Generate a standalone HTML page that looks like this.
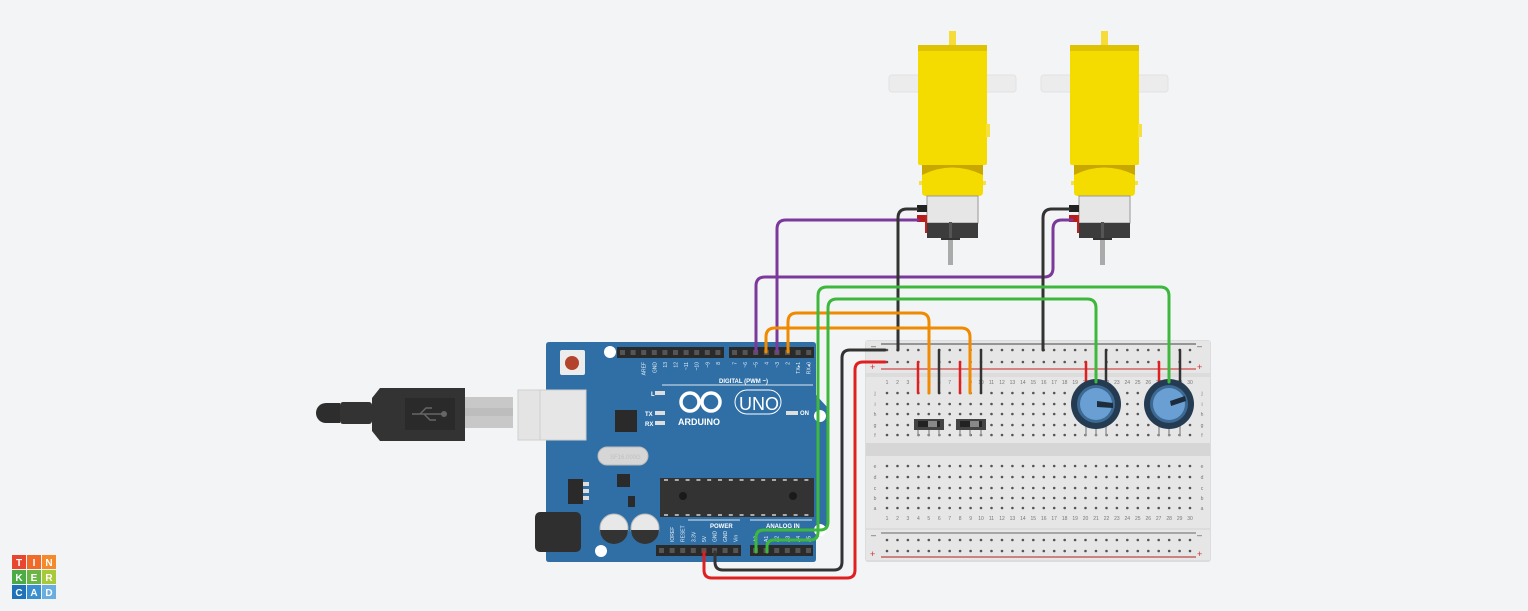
<!DOCTYPE html>
<html><head><meta charset="utf-8"><style>
html,body{margin:0;padding:0;background:#f3f4f6;}
svg{display:block;font-family:"Liberation Sans",sans-serif;}
</style></head><body>
<svg id="s" width="1528" height="611" viewBox="0 0 1528 611" xmlns="http://www.w3.org/2000/svg">
<rect width="1528" height="611" fill="#f3f4f6"/>

<!-- Motors -->
<g id="m1">
  <rect x="889" y="75" width="127" height="17" rx="3" fill="#ececec" stroke="#e2e2e2"/>
  <rect x="949" y="31" width="7" height="15" fill="#f5dc3a"/>
  <rect x="918" y="45" width="69" height="120" rx="2" fill="#f4dc00"/>
  <rect x="918" y="45" width="69" height="6" fill="#e0c300"/>
  <rect x="986" y="124" width="4" height="13" fill="#f5e040"/>
  <rect x="922" y="165" width="61" height="10" fill="#c8a800"/>
  <path d="M922 175 Q952 160 983 175 L983 192 Q983 196 979 196 L926 196 Q922 196 922 192 Z" fill="#f4dc00"/>
  <rect x="919" y="181" width="3" height="4" fill="#f5e040"/><rect x="983" y="181" width="3" height="4" fill="#f5e040"/>
  <rect x="927" y="196" width="51" height="27" fill="#e6e6e6" stroke="#999" stroke-width="1"/>
  <rect x="927" y="223" width="51" height="15" fill="#3c3c3c"/>
  <rect x="948" y="238" width="5" height="27" fill="#aaa"/>
  <rect x="949" y="222" width="3" height="18" fill="#555"/>
  <rect x="941" y="238" width="19" height="2" fill="#333"/>
  <rect x="917" y="205" width="10" height="7" fill="#222"/>
  <rect x="917" y="215" width="10" height="7" fill="#b81c1c"/>
  <rect x="925" y="215" width="2" height="18" fill="#c32020"/>
</g>
<use href="#m1" transform="translate(152,0)"/>

<!-- Breadboard -->
<rect x="865" y="340" width="346" height="222" rx="3" fill="#dcdcdc"/>
<rect x="866" y="341" width="344" height="32" fill="#e6e6e6"/>
<rect x="866" y="377" width="344" height="66" fill="#e6e6e6"/>
<rect x="866" y="443" width="344" height="13" fill="#d6d6d6"/>
<rect x="866" y="456" width="344" height="72" fill="#e6e6e6"/>
<rect x="866" y="530" width="344" height="30" fill="#e6e6e6"/>
<line x1="881" y1="344" x2="1196" y2="344" stroke="#444" stroke-width="1"/>
<line x1="881" y1="369" x2="1196" y2="369" stroke="#c62020" stroke-width="1"/>
<line x1="881" y1="533" x2="1196" y2="533" stroke="#666" stroke-width="1"/>
<line x1="881" y1="557" x2="1196" y2="557" stroke="#c06060" stroke-width="1.5"/>
<g font-size="9" fill="#d03030"><text x="870" y="370">+</text><text x="1197" y="370">+</text><text x="870" y="557">+</text><text x="1197" y="557">+</text></g>
<g font-size="9" fill="#555"><text x="871" y="349">–</text><text x="1197" y="349">–</text><text x="871" y="538">–</text><text x="1197" y="538">–</text></g>
<g id="holes" fill="#555"></g>
<g id="labels" font-size="5" fill="#777"></g>

<!-- switches -->
<rect x="914" y="419" width="30" height="11" fill="#444"/><rect x="918" y="421" width="22" height="6" fill="#222"/><rect x="928" y="421" width="9" height="6" fill="#888"/>
<rect x="956" y="419" width="30" height="11" fill="#444"/><rect x="960" y="421" width="22" height="6" fill="#222"/><rect x="970" y="421" width="9" height="6" fill="#888"/>
<g stroke="#999" stroke-width="1.5"><line x1="918" y1="430" x2="918" y2="436"/><line x1="929" y1="430" x2="929" y2="436"/><line x1="939" y1="430" x2="939" y2="436"/><line x1="960" y1="430" x2="960" y2="436"/><line x1="970" y1="430" x2="970" y2="436"/><line x1="981" y1="430" x2="981" y2="436"/></g>

<!-- breadboard jumpers -->
<g stroke-width="2.5" stroke-linecap="round">
<line x1="918" y1="362" x2="918" y2="393" stroke="#e02020"/>
<line x1="939" y1="350" x2="939" y2="393" stroke="#333"/>
<line x1="960" y1="362" x2="960" y2="393" stroke="#e02020"/>
<line x1="981" y1="350" x2="981" y2="393" stroke="#333"/>
<line x1="1086" y1="362" x2="1086" y2="382" stroke="#e02020"/>
<line x1="1106" y1="350" x2="1106" y2="382" stroke="#333"/>
<line x1="1159" y1="362" x2="1159" y2="382" stroke="#e02020"/>
<line x1="1180" y1="350" x2="1180" y2="382" stroke="#333"/>
</g>
<!-- pots -->
<g>
<g stroke="#999" stroke-width="1.5"><line x1="1086" y1="420" x2="1086" y2="436"/><line x1="1096" y1="420" x2="1096" y2="436"/><line x1="1106" y1="420" x2="1106" y2="436"/></g>
<circle cx="1096" cy="404" r="25" fill="#243b52"/>
<circle cx="1096" cy="404" r="19" fill="#3c6a94"/>
<circle cx="1096" cy="404" r="16" fill="#6a9fd4"/>
<path d="M1097 401 L1113 403 L1113 408 L1097 407 Z" fill="#1c2c3c"/>
</g>
<g>
<g stroke="#999" stroke-width="1.5"><line x1="1159" y1="420" x2="1159" y2="436"/><line x1="1169" y1="420" x2="1169" y2="436"/><line x1="1180" y1="420" x2="1180" y2="436"/></g>
<circle cx="1169" cy="404" r="25" fill="#243b52"/>
<circle cx="1169" cy="404" r="19" fill="#3c6a94"/>
<circle cx="1169" cy="404" r="16" fill="#6a9fd4"/>
<path d="M1170 401 L1185 396 L1186 401 L1171 406 Z" fill="#1c2c3c"/>
</g>

<!-- USB cable -->
<rect x="518" y="390" width="40" height="50" fill="#e4e4e4" stroke="#cfcfcf"/>
<rect x="465" y="397" width="48" height="31" fill="#c8c8c8"/>
<rect x="465" y="408" width="48" height="8" fill="#bdbdbd"/>
<circle cx="326" cy="413" r="10" fill="#2d2d2d"/>
<rect x="326" y="403" width="14" height="20" fill="#2d2d2d"/>
<rect x="340" y="402" width="32" height="22" rx="3" fill="#333"/>
<path d="M372 398 L380 388 L465 388 L465 441 L380 441 L372 431 Z" fill="#333"/>
<rect x="405" y="398" width="50" height="32" fill="#2a2a2a"/>
<g stroke="#666" stroke-width="1.5" fill="none"><line x1="412" y1="414" x2="444" y2="414"/><path d="M420 414 L426 408 L432 408"/><path d="M424 414 L430 420 L436 420"/></g><circle cx="444" cy="414" r="3" fill="#666"/>

<!-- Arduino -->
<path d="M546 345 Q546 342 549 342 L813 342 Q816 342 816 345 L816 395 L828 408 L828 525 L816 540 L816 559 Q816 562 813 562 L549 562 Q546 562 546 559 Z" fill="#2f6fa6"/>
<rect x="540" y="390" width="46" height="50" fill="#e6e6e6" stroke="#cfcfcf"/>
<rect x="560" y="350" width="25" height="25" rx="2" fill="#ececec"/><circle cx="572" cy="363" r="7" fill="#b3432c"/>
<circle cx="610" cy="352" r="6" fill="#fff"/><circle cx="820" cy="416" r="6" fill="#fff"/><circle cx="820" cy="530" r="6" fill="#fff"/><circle cx="601" cy="551" r="6" fill="#fff"/>
<rect x="617" y="347" width="107" height="11" fill="#2a2a2a"/>
<rect x="729" y="347" width="85" height="11" fill="#2a2a2a"/>
<rect x="656" y="545" width="85" height="11" fill="#2a2a2a"/>
<rect x="750" y="545" width="63" height="11" fill="#2a2a2a"/>
<g id="pins" fill="#555"></g>
<g id="plabels" font-size="5" fill="#e6eef5"></g>
<g font-size="6" fill="#fff" font-weight="bold">
<text x="719" y="383">DIGITAL (PWM ~)</text>
<text x="651" y="396">L</text><text x="645" y="416">TX</text><text x="645" y="426">RX</text>
<text x="678" y="425" font-size="9">ARDUINO</text>
<text x="710" y="528">POWER</text><text x="766" y="528">ANALOG IN</text>
<text x="800" y="415">ON</text>
</g>
<line x1="662" y1="385" x2="813" y2="385" stroke="#dfe8f0" stroke-width="1"/>
<line x1="688" y1="520" x2="740" y2="520" stroke="#dfe8f0" stroke-width="1"/>
<line x1="750" y1="520" x2="812" y2="520" stroke="#dfe8f0" stroke-width="1"/>
<g fill="none" stroke="#fff" stroke-width="3.5"><circle cx="690" cy="402" r="9"/><circle cx="711" cy="402" r="9"/></g>
<rect x="735" y="390" width="46" height="24" rx="12" fill="none" stroke="#fff" stroke-width="1"/>
<text x="739" y="410" font-size="18" fill="#fff">UNO</text>
<g fill="#ddd"><rect x="655" y="391" width="10" height="4"/><rect x="655" y="411" width="10" height="4"/><rect x="655" y="421" width="10" height="4"/><rect x="786" y="411" width="12" height="4"/></g>
<rect x="615" y="410" width="22" height="22" fill="#2a2a2a"/>
<rect x="598" y="447" width="50" height="18" rx="9" fill="#d6d6d6" stroke="#bbb"/>
<text x="610" y="459" font-size="6" fill="#c0c0c0">SF16.000G</text>
<rect x="617" y="474" width="13" height="13" fill="#2a2a2a"/>
<rect x="568" y="479" width="15" height="25" fill="#2a2a2a"/><rect x="583" y="482" width="6" height="4" fill="#ddd"/><rect x="583" y="489" width="6" height="4" fill="#ddd"/><rect x="583" y="496" width="6" height="4" fill="#ddd"/>
<rect x="628" y="496" width="7" height="11" fill="#2a2a2a"/>
<rect x="660" y="478" width="154" height="39" fill="#333"/>
<g id="chippins" fill="#aaa"></g>
<circle cx="683" cy="496" r="4" fill="#1a1a1a"/><circle cx="793" cy="496" r="4" fill="#1a1a1a"/>
<rect x="535" y="512" width="46" height="40" rx="5" fill="#2f2f2f"/>
<g><circle cx="614" cy="528" r="14" fill="#e8e8e8" stroke="#bbb"/><path d="M600 530 L628 530 A14 14 0 0 1 600 530 Z" fill="#333"/>
<circle cx="645" cy="528" r="14" fill="#e8e8e8" stroke="#bbb"/><path d="M631 530 L659 530 A14 14 0 0 1 631 530 Z" fill="#333"/></g>

<!-- Wires -->
<g fill="none" stroke-width="3" stroke-linecap="round" stroke-linejoin="round">
<path d="M756 352 L756 286 Q756 277 765 277 L1044 277 Q1053 277 1053 268 L1053 229 Q1053 220 1062 220 L1072 220" stroke="#7b3a9b"/>
<path d="M777 352 L777 229 Q777 220 786 220 L918 220" stroke="#7b3a9b"/>
<path d="M898 350 L898 218 Q898 209 907 209 L917 209" stroke="#333"/>
<path d="M1043 350 L1043 218 Q1043 209 1052 209 L1069 209" stroke="#333"/>
<path d="M766 352 L766 337 Q766 328 775 328 L961 328 Q970 328 970 337 L970 393" stroke="#f08a00"/>
<path d="M788 352 L788 322 Q788 313 797 313 L920 313 Q929 313 929 322 L929 393" stroke="#f08a00"/>
<path d="M767 552 L767 547 Q767 540 774 540 L810 540 Q818 540 818 532 L818 296 Q818 287 827 287 L1160 287 Q1169 287 1169 296 L1169 382" stroke="#3db83d"/>
<path d="M756 552 L756 538 Q756 530 764 530 L820 530 Q828 530 828 522 L828 308 Q828 299 837 299 L1087 299 Q1096 299 1096 308 L1096 382" stroke="#3db83d"/>
<path d="M715 552 L715 562 Q715 570 723 570 L834 570 Q842 570 842 562 L842 358 Q842 350 850 350 L885 350" stroke="#333"/>
<path d="M704 552 L704 570 Q704 578 712 578 L847 578 Q855 578 855 570 L855 370 Q855 362 863 362 L885 362" stroke="#e02020"/>
</g>

<!-- Logo -->
<g font-size="10" font-weight="bold" fill="#fff" text-anchor="middle">
<rect x="12" y="555" width="14" height="14" fill="#e8462e"/><text x="19" y="566">T</text>
<rect x="27" y="555" width="14" height="14" fill="#f06b2a"/><text x="34" y="566">I</text>
<rect x="42" y="555" width="14" height="14" fill="#f58a2b"/><text x="49" y="566">N</text>
<rect x="12" y="570" width="14" height="14" fill="#4cab45"/><text x="19" y="581">K</text>
<rect x="27" y="570" width="14" height="14" fill="#6bb545"/><text x="34" y="581">E</text>
<rect x="42" y="570" width="14" height="14" fill="#a8c93a"/><text x="49" y="581">R</text>
<rect x="12" y="585" width="14" height="14" fill="#1e72b8"/><text x="19" y="596">C</text>
<rect x="27" y="585" width="14" height="14" fill="#3a8fd0"/><text x="34" y="596">A</text>
<rect x="42" y="585" width="14" height="14" fill="#6aaee0"/><text x="49" y="596">D</text>
</g>
</svg>
<script>
(function(){
var NS="http://www.w3.org/2000/svg";
var h=document.getElementById("holes"),l=document.getElementById("labels"),p=document.getElementById("pins"),pl=document.getElementById("plabels"),cp=document.getElementById("chippins");
function c(x,y,r,g){var e=document.createElementNS(NS,"circle");e.setAttribute("cx",x);e.setAttribute("cy",y);e.setAttribute("r",r);g.appendChild(e);}
function t(x,y,s,g){var e=document.createElementNS(NS,"text");e.setAttribute("x",x);e.setAttribute("y",y);e.setAttribute("text-anchor","middle");e.textContent=s;g.appendChild(e);}
function rt(x,y,s,anc){var e=document.createElementNS(NS,"text");e.setAttribute("x",0);e.setAttribute("y",0);e.setAttribute("text-anchor",anc||"end");e.setAttribute("transform","translate("+x+","+y+") rotate(-90)");e.textContent=s;pl.appendChild(e);}
var rows=[350,362,393,404,414,425,435,466,477,488,498,508,540,551];
for(var i=0;i<30;i++){var x=887+i*10.45;
 for(var j=0;j<rows.length;j++)c(x.toFixed(1),rows[j],1.3,h);
 t(x.toFixed(1),384,i+1,l);t(x.toFixed(1),520,i+1,l);}
var L=["j","i","h","g","f","e","d","c","b","a"],R=[393,404,414,425,435,466,477,488,498,508];
for(var k=0;k<10;k++){t(875,R[k]+2,L[k],l);t(1202,R[k]+2,L[k],l);}
function row(x0,n,y){for(var i=0;i<n;i++){var e=document.createElementNS(NS,"rect");e.setAttribute("x",(x0+i*10.6+3).toFixed(1));e.setAttribute("y",y);e.setAttribute("width",5);e.setAttribute("height",5);p.appendChild(e);}}
row(617,10,350);row(729,8,350);row(656,8,548);row(750,6,548);
var d1=["","","AREF","GND","13","12","~11","~10","~9","8"];
for(var i=2;i<10;i++)rt(617+i*10.6+7.5,362,d1[i]);
var d2=["7","~6","~5","4","~3","2","TX▸1","RX◂0"];
for(var i=0;i<8;i++)rt(729+i*10.6+7.5,362,d2[i]);
var pw=["","IOREF","RESET","3.3V","5V","GND","GND","Vin"];
for(var i=1;i<8;i++)rt(656+i*10.6+7.5,542,pw[i],"start");
for(var i=0;i<6;i++)rt(750+i*10.6+7.5,542,"A"+i,"start");
for(var i=0;i<14;i++){var x=664+i*10.8;var a=document.createElementNS(NS,"rect");a.setAttribute("x",x);a.setAttribute("y",479);a.setAttribute("width",4);a.setAttribute("height",2);cp.appendChild(a);var b=document.createElementNS(NS,"rect");b.setAttribute("x",x);b.setAttribute("y",514);b.setAttribute("width",4);b.setAttribute("height",2);cp.appendChild(b);}
})();
</script>
</body></html>
